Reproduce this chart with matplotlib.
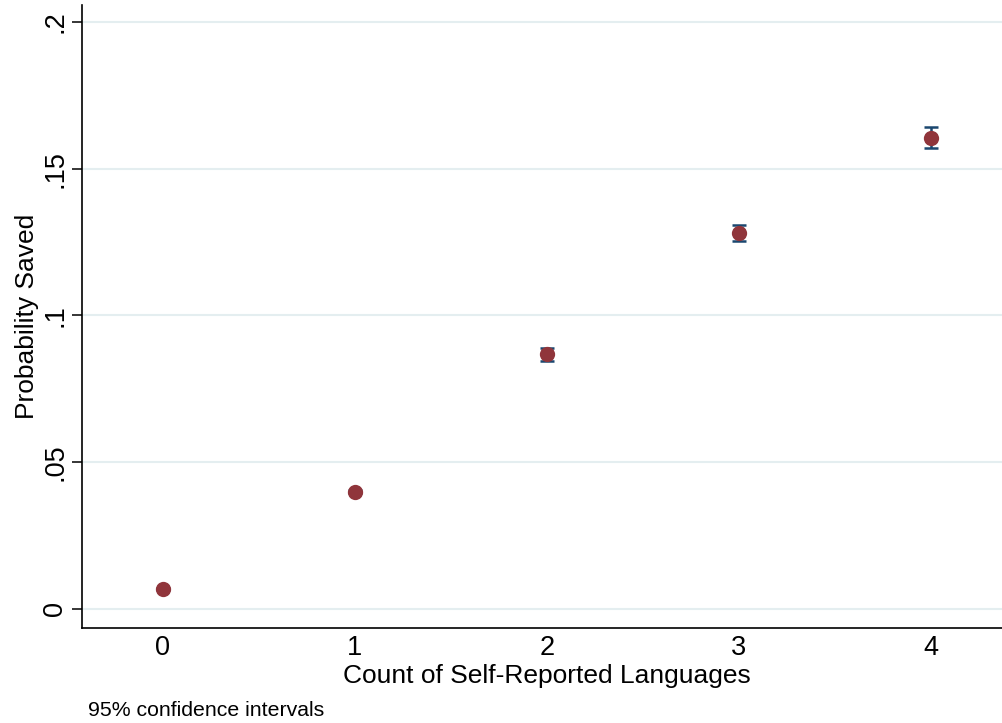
import matplotlib
matplotlib.use("Agg")
import matplotlib.pyplot as plt
import numpy as np

languages = [0, 1, 2, 3, 4]
prob_saved = [0.0068, 0.0400, 0.0869, 0.1282, 0.1606]
ci_lower = [0.0064, 0.0395, 0.0846, 0.1255, 0.1571]
ci_upper = [0.0072, 0.0405, 0.0890, 0.1309, 0.1643]
yticks = [0, 0.05, 0.1, 0.15, 0.2]
ytick_labels = ["0", ".05", ".1", ".15", ".2"]

plt.rcParams['font.family'] = ['Liberation Sans', 'DejaVu Sans']

fig = plt.figure(figsize=(10.03, 7.23), dpi=100)
ax = fig.add_axes([82/1003, 95/723, 1 - 82/1003, (628-5)/723])

x = np.array(languages)
y = np.array(prob_saved)
lo = y - np.array(ci_lower)
hi = np.array(ci_upper) - y

ax.errorbar(x, y, yerr=[lo, hi], fmt='none', ecolor='#1a476f', elinewidth=1.8,
            capsize=5, capthick=1.8, zorder=2)
ax.plot(x, y, 'o', color='#90353b', markersize=11, zorder=3, markeredgewidth=0)

ax.set_xlim(-0.42, 4.375)
ax.set_ylim(-0.0065, 0.2058)
ax.set_xticks(languages)
ax.set_xticklabels([str(v) for v in languages], fontsize=19.5)
ax.set_yticks(yticks)
ax.set_yticklabels(ytick_labels, fontsize=19.5, rotation=90, va='center')
ax.tick_params(axis='y', direction='out', length=7, width=1.1, pad=3, color='black')
ax.tick_params(axis='x', length=0, pad=5)
ax.grid(axis='y', color='#e4eef0', linewidth=1.5)
ax.set_axisbelow(True)
for s in ['top', 'right']:
    ax.spines[s].set_visible(False)
for s in ['left', 'bottom']:
    ax.spines[s].set_linewidth(1.2)

ax.set_xlabel("Count of Self-Reported Languages", fontsize=19, labelpad=2)
ax.xaxis.label.set_x((547 - 82) / (1003 - 82))
ax.set_ylabel("Probability Saved", fontsize=19, labelpad=2)
fig.text(88/1003, 1 - 710/723, "95% confidence intervals", fontsize=15.3, va='center', ha='left')

fig.savefig("out.png", dpi=100)
